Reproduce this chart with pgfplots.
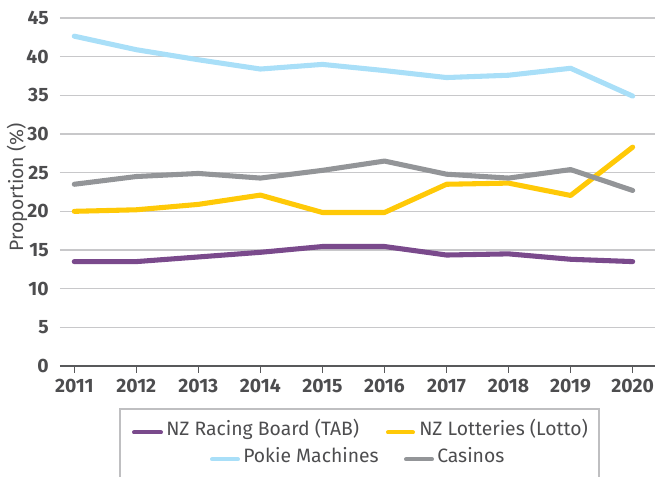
\documentclass[border=0pt]{standalone}
\usepackage{fontspec}
\setmainfont{Fira Sans}
\usepackage{pgfplots}
\pgfplotsset{compat=1.18}

\definecolor{tabpurple}{HTML}{7A4A8C}
\definecolor{lottoyellow}{HTML}{FFC907}
\definecolor{pokieblue}{HTML}{A9DFF8}
\definecolor{casinogray}{HTML}{939598}
\definecolor{gridgray}{HTML}{C8C8CA}
\definecolor{axisgray}{HTML}{58595B}
\definecolor{labelgray}{HTML}{4D4D4F}
\definecolor{boxgray}{HTML}{BFBFC1}

% share of gamblers by mode, 2011-2020
\pgfplotstableread{
year  tab    lotto  pokie  casino
2011  13.5   20.0   42.65  23.5
2012  13.5   20.2   40.9   24.5
2013  14.1   20.9   39.6   24.9
2014  14.7   22.1   38.4   24.3
2015  15.45  19.85  39.0   25.3
2016  15.45  19.85  38.2   26.5
2017  14.35  23.5   37.3   24.8
2018  14.5   23.65  37.6   24.3
2019  13.8   22.05  38.5   25.4
2020  13.5   28.3   34.9   22.7
}\gambling

\begin{document}
\begin{tikzpicture}
\begin{axis}[
    name=ax,
    scale only axis,
    width=446.25pt, height=261pt,
    xmin=2010.77, xmax=2020.36,
    ymin=0, ymax=45,
    xtick={2011,2012,...,2020},
    ytick={0,5,...,45},
    axis lines*=left,
    x axis line style={draw=axisgray, line width=1.6pt},
    y axis line style={draw=none},
    ymajorgrids,
    grid style={draw=gridgray, line width=1.1pt},
    tick align=outside,
    major tick length=5pt,
    xtick style={draw=axisgray, line width=0.9pt},
    ytick style={draw=none},
    ticklabel style={font=\fontsize{14.5}{15}\selectfont\bfseries, text=labelgray},
    xticklabel style={yshift=-1.5pt},
    /pgf/number format/assume math mode=true,
    /pgf/number format/1000 sep={},
    ylabel={Proportion (\%)},
    every axis y label/.style={at={(rel axis cs:-0.0723,0.514)}, rotate=90, anchor=center,
        font=\fontsize{14.5}{15}\selectfont, text=labelgray},
    clip=false,
    every axis plot/.append style={line width=3.8pt, line join=round, line cap=round},
]
\addplot[tabpurple] table[x=year, y=tab] {\gambling};
\addplot[lottoyellow] table[x=year, y=lotto] {\gambling};
\addplot[pokieblue] table[x=year, y=pokie] {\gambling};
\addplot[casinogray] table[x=year, y=casino] {\gambling};
\end{axis}

% legend box, centred rows as in the original
\begin{scope}[shift={(ax.south west)}, every node/.style={anchor=mid west, inner sep=0pt,
        font=\fontsize{14.5}{15}\selectfont, text=labelgray},
        sample/.style={line width=3pt, line cap=round}]
\draw[boxgray, line width=0.8pt] (45pt,-32.25pt) rectangle (404.25pt,-110pt);
\draw[sample, tabpurple] (55.5pt,-49.8pt) -- (75.75pt,-49.8pt);
\node at (79.5pt,-49.8pt) {NZ Racing Board (TAB)};
\draw[sample, lottoyellow] (246pt,-49.8pt) -- (264.75pt,-49.8pt);
\node at (269.25pt,-49.8pt) {NZ Lotteries (Lotto)};
\draw[sample, pokieblue] (114pt,-70pt) -- (133.5pt,-70pt);
\node at (137.25pt,-70pt) {Pokie Machines};
\draw[sample, casinogray] (259.5pt,-70pt) -- (279pt,-70pt);
\node at (282.75pt,-70pt) {Casinos};
\end{scope}

\pgfresetboundingbox
\path[use as bounding box] ([xshift=-45pt,yshift=-83.25pt]ax.south west)
    rectangle ([xshift=0.75pt,yshift=13.5pt]ax.north east);
\end{tikzpicture}
\end{document}
